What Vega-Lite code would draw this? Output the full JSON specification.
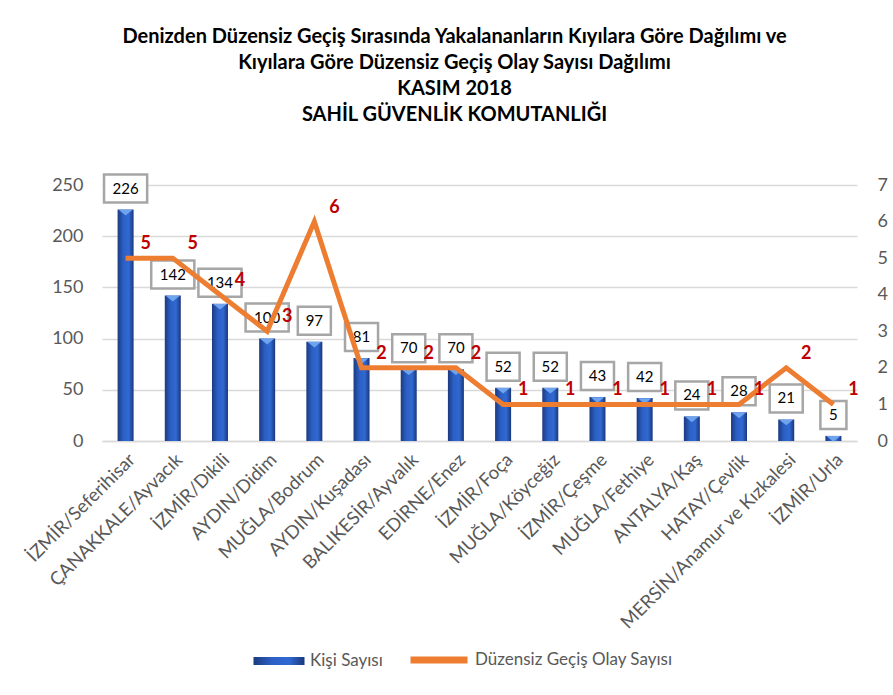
{
  "$schema": "https://vega.github.io/schema/vega-lite/v6.json",
  "width": 755,
  "height": 256,
  "autosize": {"type": "none"},
  "padding": {"left": 102, "top": 185, "right": 36, "bottom": 254},
  "background": "white",
  "title": {
    "text": ["Denizden Düzensiz Geçiş Sırasında Yakalananların Kıyılara Göre Dağılımı ve", "Kıyılara Göre Düzensiz Geçiş Olay Sayısı Dağılımı", "KASIM 2018", "SAHİL GÜVENLİK KOMUTANLIĞI"],
    "font": "Lato", "fontSize": 20, "fontWeight": "bold", "color": "#000000",
    "lineHeight": 26, "anchor": "middle", "frame": "group", "dx": -25, "offset": 45
  },
  "config": {"view": {"stroke": null}, "font": "Lato"},
  "data": {"values": [
    {"yer": "İZMİR/Seferihisar", "kisi": 226, "olay": 5},
    {"yer": "ÇANAKKALE/Ayvacık", "kisi": 142, "olay": 5},
    {"yer": "İZMİR/Dikili", "kisi": 134, "olay": 4},
    {"yer": "AYDIN/Didim", "kisi": 100, "olay": 3},
    {"yer": "MUĞLA/Bodrum", "kisi": 97, "olay": 6},
    {"yer": "AYDIN/Kuşadası", "kisi": 81, "olay": 2},
    {"yer": "BALIKESİR/Ayvalık", "kisi": 70, "olay": 2},
    {"yer": "EDİRNE/Enez", "kisi": 70, "olay": 2},
    {"yer": "İZMİR/Foça", "kisi": 52, "olay": 1},
    {"yer": "MUĞLA/Köyceğiz", "kisi": 52, "olay": 1},
    {"yer": "İZMİR/Çeşme", "kisi": 43, "olay": 1},
    {"yer": "MUĞLA/Fethiye", "kisi": 42, "olay": 1},
    {"yer": "ANTALYA/Kaş", "kisi": 24, "olay": 1},
    {"yer": "HATAY/Çevlik", "kisi": 28, "olay": 1},
    {"yer": "MERSİN/Anamur ve Kızkalesi", "kisi": 21, "olay": 2},
    {"yer": "İZMİR/Urla", "kisi": 5, "olay": 1}
  ]},
  "encoding": {
    "x": {
      "field": "yer", "type": "nominal", "sort": null,
      "scale": {"paddingInner": 0, "paddingOuter": 0},
      "axis": {
        "title": null, "labelAngle": -45, "labelFontSize": 18.5, "labelColor": "#595959",
        "labelFont": "Lato", "domainColor": "#d9d9d9", "domainWidth": 1.5, "ticks": false,
        "labelPadding": 9, "labelLimit": 300
      }
    }
  },
  "layer": [
    {
      "encoding": {
        "y": {
          "field": "kisi", "type": "quantitative",
          "scale": {"domain": [0, 250], "nice": false},
          "axis": {
            "title": null, "domain": false, "ticks": false, "labelFontSize": 18,
            "labelColor": "#595959", "labelFont": "Lato", "gridColor": "#d9d9d9", "gridWidth": 1.5,
            "values": [0, 50, 100, 150, 200, 250], "labelPadding": 19
          }
        }
      },
      "layer": [
        {
          "mark": {
            "type": "bar", "size": 16,
            "fill": {"gradient": "linear", "x1": 0, "y1": 0, "x2": 1, "y2": 0,
              "stops": [
                {"offset": 0, "color": "#1b3a80"},
                {"offset": 0.35, "color": "#2b5fc4"},
                {"offset": 0.7, "color": "#3169d2"},
                {"offset": 1, "color": "#1a377a"}
              ]}
          },
          "encoding": {
            "opacity": {
              "datum": "Kişi Sayısı", "type": "nominal",
              "scale": {"range": [1]},
              "legend": {
                "orient": "none", "legendX": 151, "legendY": 450, "title": null,
                "labelFontSize": 17, "labelColor": "#595959", "labelFont": "Lato", "labelLimit": 300,
                "symbolType": "M-1,-0.16L1,-0.16L1,0.16L-1,0.16Z", "symbolSize": 2601,
                "symbolFillColor": "#3f74d6", "symbolStrokeColor": "#1f3864", "symbolStrokeWidth": 1,
                "symbolOpacity": 1, "labelOffset": 5
              }
            }
          }
        },
        {
          "mark": {"type": "point", "shape": "M-1,-0.4L1,-0.4L0,0.4Z", "filled": true, "color": "#6fa3ee", "size": 196, "yOffset": 3, "opacity": 1}
        },
        {
          "mark": {"type": "point", "filled": true, "fill": "white", "stroke": "#a6a6a6", "strokeWidth": 2.5, "size": 784, "yOffset": -21, "opacity": 1},
          "encoding": {
            "shape": {
              "condition": [
                {"test": "datum.kisi >= 100", "value": "M-1.54,-1L1.54,-1L1.54,1L-1.54,1Z"},
                {"test": "datum.kisi >= 10", "value": "M-1.18,-1L1.18,-1L1.18,1L-1.18,1Z"}
              ],
              "value": "M-0.93,-1L0.93,-1L0.93,1L-0.93,1Z"
            }
          }
        },
        {
          "mark": {"type": "text", "fontSize": 15, "color": "#000000", "font": "Lato", "yOffset": -21, "baseline": "middle"},
          "encoding": {
            "text": {"field": "kisi", "type": "quantitative"}
          }
        }
      ]
    },
    {
      "encoding": {
        "y": {
          "field": "olay", "type": "quantitative",
          "scale": {"domain": [0, 7], "nice": false},
          "axis": {
            "orient": "right", "title": null, "domain": false, "ticks": false, "grid": false,
            "labelFontSize": 18, "labelColor": "#595959", "labelFont": "Lato",
            "values": [0, 1, 2, 3, 4, 5, 6, 7], "labelPadding": 20
          }
        }
      },
      "layer": [
        {
          "mark": {"type": "line", "strokeWidth": 5, "strokeJoin": "miter"},
          "encoding": {
            "color": {
              "datum": "Düzensiz Geçiş Olay Sayısı",
              "scale": {"range": ["#ed7d31"]},
              "legend": {
                "orient": "none", "legendX": 305, "legendY": 443, "title": null,
                "labelFontSize": 17, "labelColor": "#595959", "labelFont": "Lato", "labelLimit": 300,
                "symbolSize": 3249, "labelOffset": 4, "symbolType": "stroke", "symbolStrokeWidth": 7
              }
            }
          }
        },
        {
          "mark": {"type": "text", "fontSize": 18, "fontWeight": "bold", "color": "#c00000", "font": "Lato", "dx": 20, "dy": -14},
          "encoding": {
            "text": {"field": "olay", "type": "quantitative"}
          }
        }
      ]
    }
  ],
  "resolve": {"scale": {"y": "independent"}}
}
